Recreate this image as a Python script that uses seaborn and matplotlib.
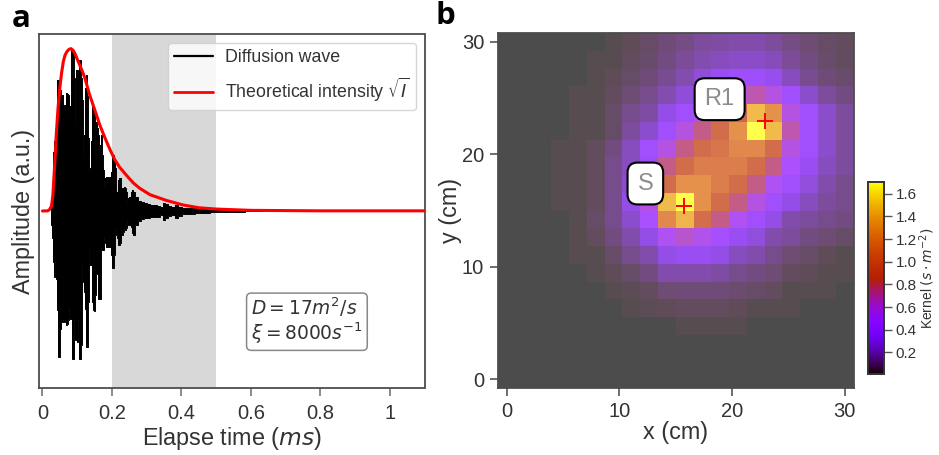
import numpy as np
import matplotlib
matplotlib.use("Agg")
import matplotlib.pyplot as plt
import seaborn as sns

# ---------- panel a data ----------
wave_time = [.0244,.0273,.0302,.0330,.0359,.0388,.0417,.0445,.0474,.0503,
 .0532,.0560,.0589,.0618,.0647,.0675,.0704,.0733,.0762,.0790,
 .0819,.0848,.0877,.0905,.0934,.0963,.0992,.1020,.1049,.1078,
 .1107,.1135,.1164,.1193,.1222,.1251,.1279,.1308,.1337,.1366,
 .1394,.1423,.1452,.1481,.1509,.1538,.1567,.1596,.1624,.1653,
 .1682,.1711,.1739,.1768,.1797,.1826,.1854,.1883,.1912,.1941,
 .1969,.1998,.2027,.2056,.2084,.2113,.2142,.2171,.2200,.2228,
 .2257,.2286,.2315,.2343,.2372,.2401,.2430,.2458,.2487,.2516,
 .2545,.2573,.2602,.2631,
 .2718,.2804,.289,.2977,.3063,.3149,.3236,.3331,.3427,.3504,.358,.3667,.3763,.3859,.3955,.4098,.4291,.4482,.4673,.4961,.5249,.5536,.6111,.8,1.1]
wave_upper = [0,.058,.16,.366,.428,.49,.551,.809,.809,.788,
 .747,.654,.716,.654,.654,.654,.726,.72,.716,.593,
 .644,.994,.994,.994,.819,.541,.87,.87,.84,.932,
 .932,.819,.685,.335,.469,.757,.84,.706,.449,.243,
 .263,.428,.654,.644,.593,.325,.551,.51,.469,.387,
 .407,.469,.346,.253,.14,.202,.212,.202,.212,.202,
 .212,.243,.335,.346,.315,.263,.119,.119,.191,.206,
 .202,.14,.13,.14,.15,.14,.119,.037,.078,.088,
 .088,.119,.13,.119,
 .088,.064,.053,.047,.041,.037,.037,.031,.027,.051,.041,.031,.027,.037,.027,.021,.021,.016,.012,.01,.006,.004,.002,.002,.001]
wave_lower = [.014,.086,.169,.313,.405,.313,.416,.611,.899,.899,
 .724,.683,.683,.673,.683,.673,.70,.693,.673,.601,
 .663,.663,.909,.909,.673,.796,.796,.807,.673,.909,
 .909,.827,.333,.436,.498,.601,.837,.837,.56,.241,
 .333,.333,.56,.611,.617,.519,.385,.385,.539,.539,
 .539,.241,.241,.241,.169,.2,.22,.22,.22,.22,
 .22,.272,.35,.35,.272,.148,.117,.169,.21,.21,
 .2,.138,.148,.128,.117,.117,.107,.056,.086,.086,
 .086,.097,.138,.148,
 .086,.062,.049,.045,.041,.039,.039,.035,.025,.056,.041,.031,.025,.041,.029,.021,.019,.014,.01,.008,.006,.004,.002,.002,.001]
theory_time = [0,.015,.02,.026,.03,.035,.04,.045,.05,.055,.06,.065,.07,.076,.082,.088,.0935,.103,.113,.122,.135,.151,.165,.18,.195,.2085,.222,.237,.25,.263,.28,.31,.357,.405,.45,.5,.6,.8,1.1]
theory_amp = [0,.001,.008,.03,.1,.28,.48,.64,.76,.85,.92,.96,.98,.995,1.0,.99,.97,.92,.87,.82,.72,.62,.53,.45,.375,.315,.27,.232,.2,.17,.14,.10,.065,.037,.02,.012,.004,.001,.001]
band_start, band_end = 0.2, 0.5
a_ticks = [0, .2, .4, .6, .8, 1]
a_ticklabels = ["0", "0.2", "0.4", "0.6", "0.8", "1"]

# ---------- panel b data (kernel, top row y=30 cm) ----------
row_00 = [0,0,0,0,0,0,.022,.03,.055,.08,.10,.14,.155,.165,.165,.14,.10,.07,.055,.04]
row_01 = [0,0,0,0,0,.02,.022,.04,.06,.09,.13,.17,.20,.22,.22,.19,.13,.09,.06,.04]
row_02 = [0,0,0,0,0,.02,.03,.05,.08,.12,.17,.26,.34,.38,.38,.32,.20,.12,.08,.06]
row_03 = [0,0,0,0,.02,.022,.04,.07,.11,.17,.26,.36,.45,.60,.70,.59,.39,.23,.14,.09]
row_04 = [0,0,0,0,.02,.022,.055,.11,.15,.30,.39,.50,.65,.90,1.45,1.24,.59,.39,.23,.14]
row_05 = [0,0,0,0,.02,.022,.055,.14,.23,.39,.59,.765,.97,1.24,1.7,1.45,.70,.39,.23,.14]
row_06 = [0,0,0,.02,.022,.04,.09,.195,.39,.59,.765,.97,1.04,1.19,1.19,.97,.59,.39,.23,.14]
row_07 = [0,0,0,.02,.022,.04,.11,.195,.35,.765,.97,1.115,1.115,1.115,.97,.765,.48,.34,.195,.14]
row_08 = [0,0,0,.02,.022,.04,.11,.23,.50,.97,1.24,1.24,1.115,.97,.765,.53,.39,.265,.165,.11]
row_09 = [0,0,0,.02,.022,.04,.11,.30,.59,1.45,1.7,1.24,.97,.765,.59,.39,.30,.195,.14,.11]
row_10 = [0,0,0,0,.02,.055,.11,.23,.48,1.19,1.42,.98,.765,.53,.39,.30,.165,.14,.11,.09]
row_11 = [0,0,0,0,.02,.04,.09,.165,.30,.53,.64,.56,.43,.34,.265,.165,.14,.09,.07,.055]
row_12 = [0,0,0,0,.02,.022,.055,.11,.165,.30,.34,.34,.30,.195,.165,.11,.07,.055,.03,.022]
row_13 = [0,0,0,0,0,.02,.03,.055,.09,.165,.165,.165,.155,.11,.09,.07,.04,.03,.022,.02]
row_14 = [0,0,0,0,0,0,.02,.025,.04,.07,.08,.08,.08,.065,.055,.04,.022,.02,.02,0]
row_15 = [0,0,0,0,0,0,0,.022,.025,.03,.038,.038,.038,.03,.022,.02,.02,0,0,0]
row_16 = [0,0,0,0,0,0,0,0,0,0,.02,.02,.02,.02,0,0,0,0,0,0]
row_17 = [0]*20
row_18 = [0]*20
row_19 = [0]*20
kernel_rows = [row_00,row_01,row_02,row_03,row_04,row_05,row_06,row_07,row_08,row_09,
               row_10,row_11,row_12,row_13,row_14,row_15,row_16,row_17,row_18,row_19]
b_ticks = [0, 10, 20, 30]
cbar_ticks = [.2,.4,.6,.8,1.0,1.2,1.4,1.6]
spot_names = ["S", "R1"]
spot_x = [15.7, 22.9]
spot_y = [15.4, 23.0]
label_x = [12.3, 18.9]
label_y = [17.4, 24.9]

sns.set_theme(style="ticks")
plt.rcParams["font.family"] = ["Liberation Sans", "DejaVu Sans"]
plt.rcParams["mathtext.default"] = "it"
W, H = 939, 455
fig = plt.figure(figsize=(W/100, H/100), dpi=100)
def box(l, t, r, b):
    return [l/W, 1-b/H, (r-l)/W, (b-t)/H]

SP = "#4d4d4d"
TXT = "#333333"

# ---------- a ----------
ax = fig.add_axes(box(39, 34, 424.5, 388))
ax.axvspan(band_start, band_end, color="#d8d8d8", lw=0, zorder=0)
t = np.array(wave_time); up = np.array(wave_upper); lo = -np.array(wave_lower)
ax.fill_between(t, lo, up, step="mid", color="black", lw=0, zorder=2)
sns.lineplot(x=t, y=up, ax=ax, color="black", lw=0.7, drawstyle="steps-mid", estimator=None,
             label="Diffusion wave", zorder=2)
sns.lineplot(x=t, y=lo, ax=ax, color="black", lw=0.7, drawstyle="steps-mid", estimator=None,
             zorder=2)
sns.lineplot(x=theory_time, y=theory_amp, ax=ax, color="red", lw=2.2, estimator=None,
             label=r"Theoretical intensity $\sqrt{I}$", zorder=3)
ax.set_xlim(-0.01, 1.1)
ax.set_ylim(-1.09, 1.09)
ax.set_xticks(a_ticks, a_ticklabels)
ax.set_yticks([])
ax.tick_params(axis="x", labelsize=14.5, length=6, width=1.2, color="#777777", labelcolor=TXT, pad=5.5)
ax.set_xlabel("Elapse time ($ms$)", fontsize=16.8, color=TXT, labelpad=1.5)
ax.set_ylabel("Amplitude (a.u.)", fontsize=16.8, color=TXT, labelpad=3)
leg = ax.legend(loc="upper left", bbox_to_anchor=(0.335, 0.975), borderaxespad=0, fontsize=12.8,
                frameon=True, framealpha=0.8, edgecolor="0.8", borderpad=0.35, labelspacing=0.55,
                handlelength=2.2, handletextpad=0.65)
for h, w in zip(leg.get_lines(), [1.6, 2.0]):
    h.set_linewidth(w)
for tx in leg.get_texts():
    tx.set_color(TXT)
ax.text(0.695, 0.19, "$D = 17m^2/s$\n$\\xi = 8000s^{-1}$", transform=ax.transAxes, fontsize=13.4,
        color=TXT, va="center", ha="center", multialignment="left", linespacing=1.05,
        bbox=dict(boxstyle="round,pad=0.25", fc="white", ec="#888888", lw=1.1))
for s in ax.spines.values():
    s.set_visible(True); s.set_color(SP); s.set_linewidth(1.3)

# ---------- b ----------
bx = fig.add_axes(box(498, 33, 853.5, 388))
vmin, vmax = 0.01, 1.7
sns.heatmap(np.array(kernel_rows), ax=bx, cmap="gnuplot", vmin=vmin, vmax=vmax, alpha=0.7,
            cbar=False, xticklabels=False, yticklabels=False, square=False)
step = 30/19
def cx(v): return np.asarray(v)/step + 0.5
def cy(v): return (30-np.asarray(v))/step + 0.5
bx.set_xticks(cx(b_ticks), [str(v) for v in b_ticks])
bx.set_yticks(cy(b_ticks), [str(v) for v in b_ticks], rotation=0)
bx.tick_params(labelsize=14.5, length=6, width=1.2, color="#555555", labelcolor=TXT, pad=4,
               bottom=True, left=True)
bx.set_xlabel("x (cm)", fontsize=16.8, color=TXT, labelpad=0)
bx.set_ylabel("y (cm)", fontsize=16.8, color=TXT, labelpad=0)
for s in bx.spines.values():
    s.set_visible(True); s.set_color(SP); s.set_linewidth(1.3)
sns.scatterplot(x=cx(spot_x), y=cy(spot_y), ax=bx, marker="+", color="red", s=117, linewidth=1.4,
                legend=False, zorder=5)
for n, lx, ly in zip(spot_names, label_x, label_y):
    bx.text(cx(lx), cy(ly), n, fontsize=17, color="#8c8c8c", ha="center", va="center", zorder=6,
            bbox=dict(boxstyle="round,pad=0.42", fc="white", ec="black", lw=1.5))

# colorbar
cax = fig.add_axes(box(868, 182.5, 884, 374))
sm = plt.cm.ScalarMappable(norm=plt.Normalize(vmin, vmax), cmap="gnuplot")
cb = fig.colorbar(sm, cax=cax, ticks=cbar_ticks)
cb.ax.set_yticklabels([f"{v:.1f}" for v in cbar_ticks])
cb.ax.tick_params(labelsize=11, length=6, width=1, color="#555555", labelcolor=TXT, pad=2.5)
cb.set_label(r"Kernel $(s \cdot m^{-2})$", fontsize=10, color=TXT, labelpad=0.5)
cb.outline.set_edgecolor("#333333"); cb.outline.set_linewidth(1.4)

fig.text(12/W, 1-27/H, "a", fontfamily="Open Sans", fontweight="bold", fontsize=22.5, color="black")
fig.text(436/W, 1-24/H, "b", fontfamily="Open Sans", fontweight="bold", fontsize=22.5, color="black")
fig.savefig("out.png", dpi=100)
